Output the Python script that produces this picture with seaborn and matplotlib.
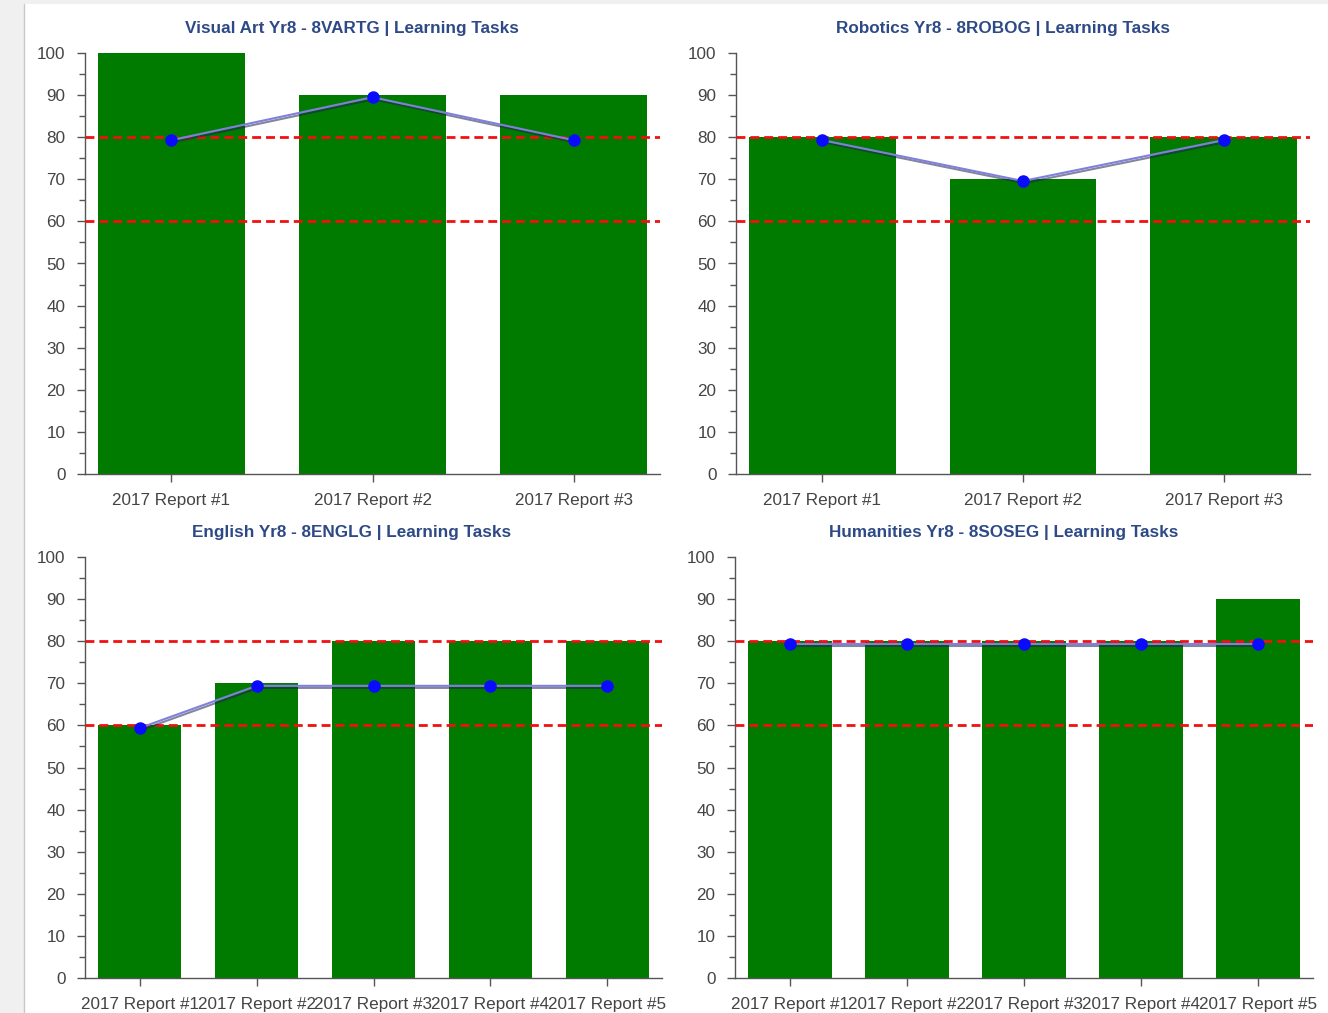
import matplotlib
matplotlib.use("Agg")
import matplotlib.pyplot as plt
import matplotlib.patheffects as pe
from matplotlib.patches import Rectangle
from matplotlib.ticker import MultipleLocator
import seaborn as sns
import pandas as pd

# ---------------- data ----------------
categories3 = ["2017 Report #1", "2017 Report #2", "2017 Report #3"]
categories5 = ["2017 Report #1", "2017 Report #2", "2017 Report #3",
               "2017 Report #4", "2017 Report #5"]

art_title = "Visual Art Yr8 - 8VARTG | Learning Tasks"
art_scores = [100, 90, 90]
art_avg = [79.3, 89.5, 79.3]

robotics_title = "Robotics Yr8 - 8ROBOG | Learning Tasks"
robotics_scores = [80, 70, 80]
robotics_avg = [79.3, 69.6, 79.3]

english_title = "English Yr8 - 8ENGLG | Learning Tasks"
english_scores = [60, 70, 80, 80, 80]
english_avg = [59.4, 69.4, 69.4, 69.4, 69.4]

humanities_title = "Humanities Yr8 - 8SOSEG | Learning Tasks"
humanities_scores = [80, 80, 80, 80, 90]
humanities_avg = [79.3, 79.3, 79.3, 79.3, 79.3]

thresholds = [80, 60]

# ---------------- style ----------------
sns.set_theme(style="white")
plt.rcParams["font.family"] = ["Liberation Sans", "DejaVu Sans"]

W, H = 1328, 1013
fig = plt.figure(figsize=(W / 100, H / 100), dpi=100)
fig.patch.set_facecolor("white")

# page chrome: grey strips
fig.patches.append(Rectangle((0, 0), 24 / W, 1, transform=fig.transFigure,
                             facecolor="#f0f0f0", edgecolor="none", zorder=-5))
fig.patches.append(Rectangle((0, 1 - 4 / H), 1, 4 / H, transform=fig.transFigure,
                             facecolor="#f0f0f0", edgecolor="none", zorder=-5))
fig.lines.append(plt.Line2D([24 / W, 24 / W], [0, 1 - 4 / H], transform=fig.transFigure,
                            color="#c8c8c8", lw=1))

BAR = "#007b00"
TITLE = "#2e4a86"
TEXT = "#444444"

panels = [
    # title, cats, scores, avg, (left, right, top, bottom) in px, title_x, bar width
    (art_title, categories3, art_scores, art_avg, (85, 660, 53, 474), 352, 0.73),
    (robotics_title, categories3, robotics_scores, robotics_avg, (736, 1310, 53, 474), 1003, 0.73),
    (english_title, categories5, english_scores, english_avg, (85, 662, 557, 978), 352, 0.71),
    (humanities_title, categories5, humanities_scores, humanities_avg, (735, 1313, 557, 978), 1004, 0.71),
]

for title, cats, scores, avg, (l, r, t, b), tx, bw in panels:
    ax = fig.add_axes([l / W, (H - b) / H, (r - l) / W, (b - t) / H])
    df = pd.DataFrame({"report": cats, "score": scores, "avg": avg})
    sns.barplot(data=df, x="report", y="score", color=BAR, saturation=1,
                width=bw, ax=ax, zorder=2)
    for p in ax.patches:
        p.set_edgecolor("none")
    n = len(cats)
    for th in thresholds:
        ax.axhline(th, color="#f01010", lw=2, dashes=(3.2, 1.8), zorder=3)
    sns.lineplot(data=df, x="report", y="avg", ax=ax, color="#8080dc", lw=1.5,
                 sort=False, zorder=4,
                 path_effects=[pe.SimpleLineShadow(offset=(0.8, -1.5), shadow_color="#202050", alpha=0.55),
                               pe.Normal()])
    ax.plot(range(n), avg, ls="none", marker="o", ms=8, color="#0a0aff",
            markeredgecolor="#0a0aff", zorder=5)

    ax.set_ylim(0, 100)
    pad = (0.43 if n == 3 else 0.47)
    ax.set_xlim(-pad, n - 1 + pad)
    ax.yaxis.set_major_locator(MultipleLocator(10))
    ax.yaxis.set_minor_locator(MultipleLocator(5))
    ax.set_xlabel("")
    ax.set_ylabel("")
    for s in ["top", "right"]:
        ax.spines[s].set_visible(False)
    for s in ["left", "bottom"]:
        ax.spines[s].set_color("#555555")
        ax.spines[s].set_linewidth(1)
    ax.tick_params(axis="both", which="major", direction="out", length=6, width=1,
                   color="#555555", labelsize=12.3, labelcolor=TEXT, left=True, bottom=True)
    ax.tick_params(axis="y", which="minor", direction="out", length=4, width=1,
                   color="#555555", left=True)
    ax.tick_params(axis="x", pad=8)
    ax.tick_params(axis="y", pad=8)
    ax.set_facecolor("white")

    fig.text(tx / W, 1 - (t - 25) / H, title, ha="center", va="center",
             fontsize=12.3, color=TITLE, fontweight="bold",
             family=["Liberation Sans Narrow", "Liberation Sans", "DejaVu Sans"])

fig.savefig("out.png", dpi=100)
